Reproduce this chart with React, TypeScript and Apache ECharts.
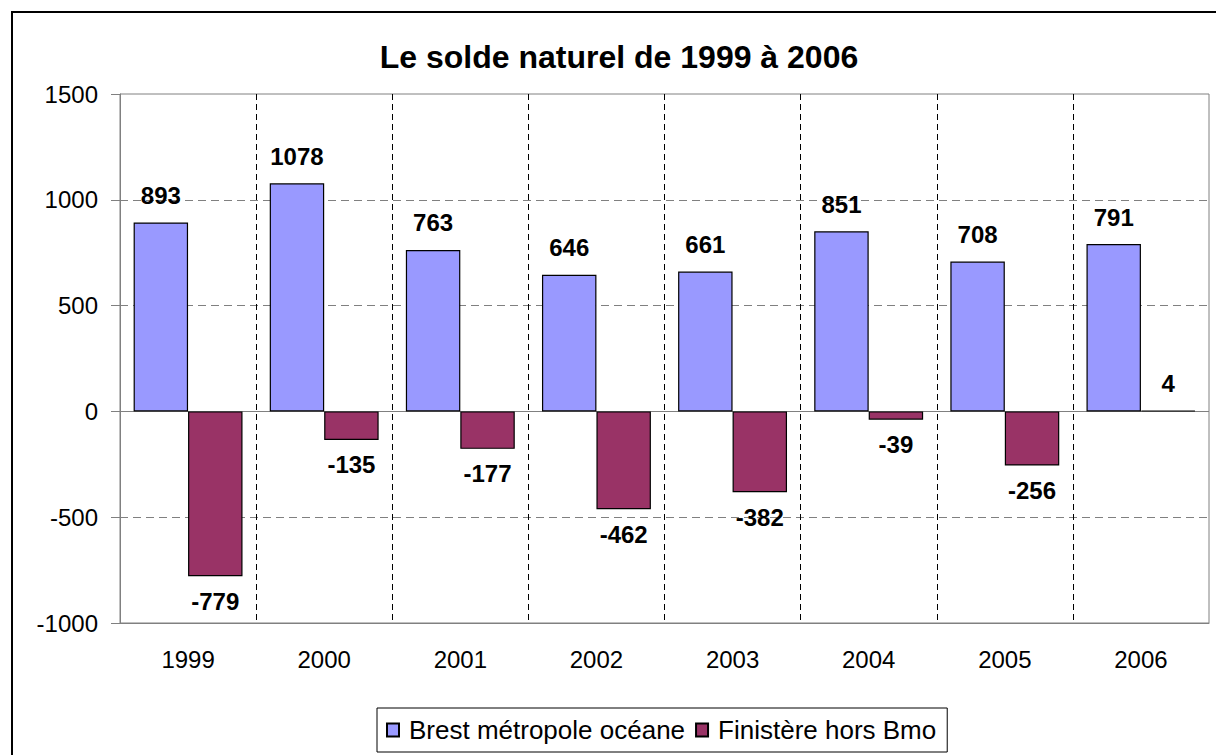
import React, { useEffect, useRef } from "react";
import * as echarts from "echarts";

const TITLE = "Le solde naturel de 1999 à 2006";
const categories = ["1999", "2000", "2001", "2002", "2003", "2004", "2005", "2006"];
const seriesNames = ["Brest métropole océane", "Finistère hors Bmo"];
const brestValues = [893, 1078, 763, 646, 661, 851, 708, 791];
const finistereValues = [-779, -135, -177, -462, -382, -39, -256, 4];
const yMin = -1000;
const yMax = 1500;
const yInterval = 500;

const FONT = "'Liberation Sans', Arial, sans-serif";

function toItems(values: number[]) {
  return values.map((v) => ({
    value: v,
    label: {
      position: v >= 0 ? "top" : "bottom",
      distance: v >= 0 ? 15 : 13,
    },
  }));
}

export default function App() {
  const ref = useRef<HTMLDivElement>(null);
  useEffect(() => {
    if (!ref.current) return;
    const chart = echarts.init(ref.current, null, { renderer: "svg" });
    const labelStyle = {
      show: true,
      color: "#000",
      fontSize: 24,
      fontWeight: "bold",
      fontFamily: FONT,
    };
    chart.setOption({
      animation: false,
      backgroundColor: "#fff",
      graphic: [
        {
          type: "rect",
          shape: { x: 12, y: 12, width: 1400, height: 1000 },
          style: { fill: "none", stroke: "#000", lineWidth: 2 },
          silent: true,
        },
        {
          type: "text",
          x: 619,
          y: 57,
          style: {
            text: TITLE,
            font: `bold 32px ${FONT}`,
            fill: "#000",
            textAlign: "center",
            textVerticalAlign: "middle",
          },
        },
      ],
      legend: {
        left: 377,
        top: 708,
        orient: "horizontal",
        padding: [9, 11, 9, 9],
        borderColor: "#000",
        borderWidth: 1,
        itemWidth: 12,
        itemHeight: 13,
        itemGap: 10,
        icon: "rect",
        textStyle: {
          fontSize: 26,
          color: "#000",
          fontFamily: FONT,
          padding: [0, 0, 0, 5],
        },
        data: seriesNames,
      },
      grid: {
        left: 120,
        top: 94,
        right: 7,
        bottom: 132,
        show: true,
        borderColor: "#808080",
        borderWidth: 1,
        backgroundColor: "transparent",
      },
      xAxis: {
        type: "category",
        data: categories,
        position: "bottom",
        axisLine: { show: true, onZero: false, lineStyle: { color: "#808080", width: 1 } },
        axisTick: { show: false },
        axisLabel: { color: "#000", fontSize: 24, fontFamily: FONT, margin: 24 },
        splitLine: {
          show: true,
          showMinLine: false,
          showMaxLine: false,
          lineStyle: { color: "#000", type: [6, 4], width: 1 },
        },
      },
      yAxis: {
        type: "value",
        min: yMin,
        max: yMax,
        interval: yInterval,
        axisLine: { show: true, lineStyle: { color: "#808080", width: 1 } },
        axisTick: { show: true, inside: false, length: 9, lineStyle: { color: "#808080" } },
        axisLabel: {
          color: "#000",
          fontSize: 24,
          fontFamily: FONT,
          margin: 22,
          formatter: (v: number) => String(v),
        },
        splitLine: {
          show: true,
          showMinLine: false,
          showMaxLine: false,
          lineStyle: { color: "#808080", type: [8, 5], width: 1 },
        },
      },
      series: [
        {
          name: seriesNames[0],
          type: "bar",
          data: toItems(brestValues),
          barGap: "0%",
          barCategoryGap: "20%",
          itemStyle: { color: "#9999FF", borderColor: "#000", borderWidth: 1.2 },
          label: labelStyle,
          markLine: {
            silent: true,
            symbol: "none",
            z: 1,
            label: { show: false },
            lineStyle: { color: "#808080", type: "solid", width: 1 },
            data: [{ yAxis: 0 }],
          },
        },
        {
          name: seriesNames[1],
          type: "bar",
          data: toItems(finistereValues),
          barGap: "0%",
          barCategoryGap: "20%",
          itemStyle: { color: "#993366", borderColor: "#000", borderWidth: 1.2 },
          label: labelStyle,
        },
      ],
    });
    return () => chart.dispose();
  }, []);
  return (
    <div
      ref={ref}
      style={{ position: "fixed", left: 0, top: 0, width: 1216, height: 755 }}
    />
  );
}
